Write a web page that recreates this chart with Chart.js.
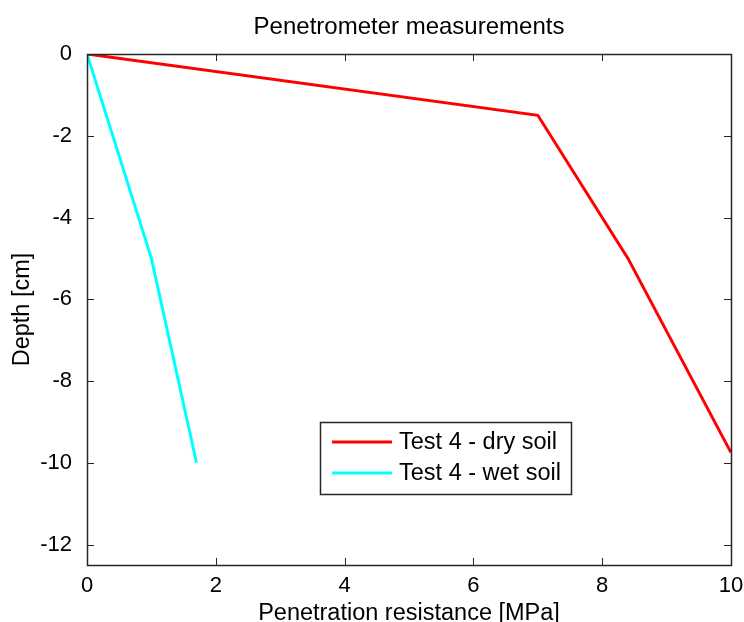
<!DOCTYPE html>
<html>
<head>
<meta charset="utf-8">
<script src="https://cdn.jsdelivr.net/npm/chart.js@4/dist/chart.umd.min.js"></script>
<style>
  html, body { margin: 0; padding: 0; background: #fff; }
  #wrap { width: 744px; height: 622px; }
</style>
</head>
<body>
<div id="wrap"><canvas id="myChart" width="744" height="622"></canvas></div>
<script>
// data
const dryX = [0, 7, 8.4, 10];
const dryY = [0, -1.5, -5, -9.75];
const wetX = [0, 1, 1.7];
const wetY = [0, -5, -10];
const xTicks = [0, 2, 4, 6, 8, 10];
const yTicks = [0, -2, -4, -6, -8, -10, -12];

const FONT = "'Liberation Sans', Arial, Helvetica, sans-serif";
const AXIS = '#262626';

const toPoints = (xs, ys) => xs.map((x, i) => ({x: x, y: ys[i]}));

// full box around the plot with inward ticks on all four sides
const boxPlugin = {
    id: 'box',
    afterDatasetsDraw(chart) {
        const {ctx, chartArea: a, scales} = chart;
        const len = 7;
        ctx.save();
        ctx.strokeStyle = AXIS;
        ctx.lineWidth = 1;
        ctx.beginPath();
        xTicks.forEach(v => {
            const px = Math.round(scales.x.getPixelForValue(v)) + 0.5;
            ctx.moveTo(px, a.bottom); ctx.lineTo(px, a.bottom - len);
            ctx.moveTo(px, a.top); ctx.lineTo(px, a.top + len);
        });
        yTicks.forEach(v => {
            const py = Math.round(scales.y.getPixelForValue(v)) + 0.5;
            ctx.moveTo(a.left, py); ctx.lineTo(a.left + len, py);
            ctx.moveTo(a.right, py); ctx.lineTo(a.right - len, py);
        });
        ctx.stroke();
        ctx.lineWidth = 1.5;
        ctx.strokeRect(Math.round(a.left) + 0.5, Math.round(a.top) + 0.5,
            Math.round(a.right - a.left), Math.round(a.bottom - a.top));
        ctx.restore();
    }
};

// legend box sitting inside the plot, like the original
const insideLegend = {
    id: 'insideLegend',
    afterDraw(chart) {
        const {ctx, chartArea: a} = chart;
        const x0 = a.left + 233, y0 = a.top + 368;
        const w = 251, h = 72;
        ctx.save();
        ctx.fillStyle = '#fff';
        ctx.fillRect(x0, y0, w, h);
        ctx.strokeStyle = AXIS;
        ctx.lineWidth = 1.5;
        ctx.strokeRect(x0 + 0.5, y0 + 0.5, w, h);
        ctx.font = '23.5px ' + FONT;
        ctx.textBaseline = 'middle';
        ctx.fillStyle = '#000';
        chart.data.datasets.forEach((ds, i) => {
            const yy = y0 + 20 + i * 31;
            ctx.strokeStyle = ds.borderColor;
            ctx.lineWidth = ds.borderWidth;
            ctx.beginPath();
            ctx.moveTo(x0 + 12, yy);
            ctx.lineTo(x0 + 72, yy);
            ctx.stroke();
            ctx.fillText(ds.label, x0 + 79, yy + 1);
        });
        ctx.restore();
    }
};

const ctx = document.getElementById('myChart').getContext('2d');
const myChart = new Chart(ctx, {
    type: 'line',
    data: {
        datasets: [
            {
                label: 'Test 4 - dry soil',
                data: toPoints(dryX, dryY),
                borderColor: '#ff0000',
                borderWidth: 3,
                pointRadius: 0,
                tension: 0
            },
            {
                label: 'Test 4 - wet soil',
                data: toPoints(wetX, wetY),
                borderColor: '#00ffff',
                borderWidth: 3,
                pointRadius: 0,
                tension: 0
            }
        ]
    },
    options: {
        responsive: false,
        animation: false,
        layout: {padding: {left: 0, right: 13, top: 0, bottom: 0}},
        plugins: {
            legend: {display: false},
            tooltip: {enabled: false},
            title: {
                display: true,
                fullSize: false,
                text: 'Penetrometer measurements',
                color: '#000',
                font: {family: FONT, size: 24, weight: 'normal'},
                padding: {top: 12.6, bottom: 12.6}
            }
        },
        scales: {
            x: {
                type: 'linear',
                min: 0,
                max: 10,
                afterBuildTicks: scale => { scale.ticks = xTicks.map(v => ({value: v})); },
                afterFit: scale => { scale.height = 57; },
                grid: {display: false},
                border: {display: false},
                ticks: {color: '#000', font: {family: FONT, size: 22}, padding: 0, maxRotation: 0},
                title: {
                    display: true,
                    text: 'Penetration resistance [MPa]',
                    color: '#000',
                    font: {family: FONT, size: 23.5},
                    padding: {top: 0, bottom: -6}
                }
            },
            y: {
                type: 'linear',
                min: -12.5,
                max: 0,
                afterBuildTicks: scale => { scale.ticks = yTicks.map(v => ({value: v})); },
                afterFit: scale => { scale.width = 87; },
                grid: {display: false},
                border: {display: false},
                ticks: {color: '#000', font: {family: FONT, size: 22}, padding: 7},
                title: {
                    display: true,
                    text: 'Depth [cm]',
                    color: '#000',
                    font: {family: FONT, size: 23.5},
                    padding: {top: 8, bottom: 0}
                }
            }
        }
    },
    plugins: [boxPlugin, insideLegend]
});
</script>
</body>
</html>
